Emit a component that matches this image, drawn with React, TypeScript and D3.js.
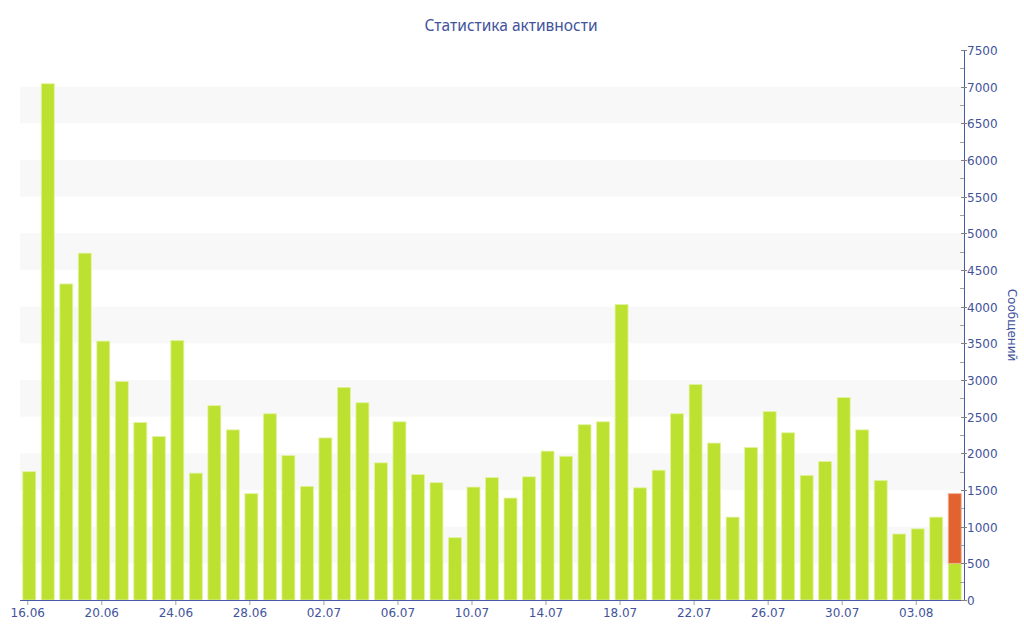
import { useEffect, useRef } from 'react';
import * as d3 from 'd3';

// one bar per day, 16.06 .. 05.08
const days = [
    '16.06', '17.06', '18.06', '19.06', '20.06', '21.06', '22.06', '23.06', '24.06', '25.06',
    '26.06', '27.06', '28.06', '29.06', '30.06', '01.07', '02.07', '03.07', '04.07', '05.07',
    '06.07', '07.07', '08.07', '09.07', '10.07', '11.07', '12.07', '13.07', '14.07', '15.07',
    '16.07', '17.07', '18.07', '19.07', '20.07', '21.07', '22.07', '23.07', '24.07', '25.07',
    '26.07', '27.07', '28.07', '29.07', '30.07', '31.07', '01.08', '02.08', '03.08', '04.08',
    '05.08',
];

const messages = [
    1750, 7040, 4310, 4730, 3530, 2980, 2420, 2230, 3540, 1730,
    2650, 2320, 1450, 2540, 1970, 1550, 2210, 2900, 2690, 1870,
    2430, 1710, 1600, 850, 1540, 1670, 1390, 1680, 2030, 1960,
    2390, 2430, 4030, 1530, 1770, 2540, 2940, 2140, 1130, 2080,
    2570, 2280, 1700, 1890, 2760, 2320, 1630, 900, 970, 1130,
    500,
];

// extra part on top of the last (current) day
const extra = [
    0, 0, 0, 0, 0, 0, 0, 0, 0, 0,
    0, 0, 0, 0, 0, 0, 0, 0, 0, 0,
    0, 0, 0, 0, 0, 0, 0, 0, 0, 0,
    0, 0, 0, 0, 0, 0, 0, 0, 0, 0,
    0, 0, 0, 0, 0, 0, 0, 0, 0, 0,
    950,
];

const xTickLabels = [
    '16.06', '20.06', '24.06', '28.06', '02.07', '06.07', '10.07',
    '14.07', '18.07', '22.07', '26.07', '30.07', '03.08',
];

const yTicks = [0, 500, 1000, 1500, 2000, 2500, 3000, 3500, 4000, 4500, 5000, 5500, 6000, 6500, 7000, 7500];

function ActivityChart() {
    const ref = useRef<SVGSVGElement | null>(null);

    useEffect(() => {
        const width = 1024;
        const height = 640;
        const left = 20;
        const right = 964;
        const top = 50;
        const bottom = 600;
        const font = '"DejaVu Sans", Verdana, sans-serif';
        const textColor = '#42539b';
        const axisColor = '#4a5aa4';

        const svg = d3.select(ref.current);
        svg.selectAll('*').remove();
        svg.attr('width', width).attr('height', height);

        const x = d3.scaleBand<string>()
            .domain(days)
            .range([left, right])
            .paddingInner(0.3)
            .paddingOuter(0.15);

        const y = d3.scaleLinear().domain([0, 7500]).range([bottom, top]);

        // === alternating bands ===
        const bands = yTicks.filter((t) => t % 1000 === 500 && t < 7500);
        svg.append('g')
            .selectAll('rect')
            .data(bands)
            .enter()
            .append('rect')
            .attr('x', left)
            .attr('width', right - left)
            .attr('y', (d) => y(d + 500))
            .attr('height', (d) => y(d) - y(d + 500))
            .attr('fill', '#f8f8f8');

        // === bars ===
        const data = days.map((d, i) => ({ day: d, base: messages[i], extra: extra[i] }));
        svg.append('g')
            .selectAll('rect')
            .data(data)
            .enter()
            .append('rect')
            .attr('x', (d) => x(d.day)!)
            .attr('width', x.bandwidth())
            .attr('y', (d) => y(d.base))
            .attr('height', (d) => y(0) - y(d.base))
            .attr('fill', '#bde130')
            .attr('stroke', '#e2f3a0')
            .attr('stroke-width', 0.8);

        svg.append('g')
            .selectAll('rect')
            .data(data.filter((d) => d.extra > 0))
            .enter()
            .append('rect')
            .attr('x', (d) => x(d.day)!)
            .attr('width', x.bandwidth())
            .attr('y', (d) => y(d.base + d.extra))
            .attr('height', (d) => y(d.base) - y(d.base + d.extra))
            .attr('fill', '#e2632f')
            .attr('stroke', '#f0b093')
            .attr('stroke-width', 0.8);

        // === x axis ===
        const xAxis = svg.append('g');
        xAxis.append('line')
            .attr('x1', left)
            .attr('x2', right)
            .attr('y1', bottom + 0.5)
            .attr('y2', bottom + 0.5)
            .attr('stroke', axisColor);
        const xt = xAxis.selectAll('.xt')
            .data(xTickLabels)
            .enter()
            .append('g')
            .attr('class', 'xt')
            .attr('transform', (d) => `translate(${x(d)! + x.bandwidth() / 2 - 1.5}, ${bottom})`);
        xt.append('line')
            .attr('y1', 1)
            .attr('y2', 5)
            .attr('stroke', '#a0a0a0');
        xt.append('text')
            .attr('y', 17)
            .attr('text-anchor', 'middle')
            .attr('font-family', font)
            .attr('font-size', '12px')
            .attr('fill', textColor)
            .text((d) => d);

        // === y axis (right) ===
        const yAxis = svg.append('g');
        yAxis.append('line')
            .attr('x1', right + 0.5)
            .attr('x2', right + 0.5)
            .attr('y1', top)
            .attr('y2', bottom)
            .attr('stroke', axisColor);
        const minor = d3.range(250, 7500, 500);
        yAxis.selectAll('.minor')
            .data(minor)
            .enter()
            .append('line')
            .attr('x1', right - 4)
            .attr('x2', right)
            .attr('y1', (d) => Math.round(y(d)) + 0.5)
            .attr('y2', (d) => Math.round(y(d)) + 0.5)
            .attr('stroke', '#a0a0a0');
        const yt = yAxis.selectAll('.yt')
            .data(yTicks)
            .enter()
            .append('g')
            .attr('transform', (d) => `translate(${right}, ${Math.round(y(d)) + 0.5})`);
        yt.append('line')
            .attr('x1', -3)
            .attr('x2', 3)
            .attr('stroke', '#808080');
        yt.append('text')
            .attr('x', 3)
            .attr('dy', '0.35em')
            .attr('font-family', font)
            .attr('font-size', '12px')
            .attr('fill', textColor)
            .text((d) => String(d));

        svg.append('text')
            .attr('transform', `translate(1008, ${(top + bottom) / 2}) rotate(90)`)
            .attr('text-anchor', 'middle')
            .attr('font-family', font)
            .attr('font-size', '12px')
            .attr('fill', textColor)
            .text('Сообщений');

        // === title ===
        svg.append('text')
            .attr('x', 511)
            .attr('y', 31)
            .attr('text-anchor', 'middle')
            .attr('font-family', '"Noto Sans", "Open Sans", sans-serif')
            .attr('font-size', '15.5px')
            .attr('fill', textColor)
            .text('Статистика активности');
    }, []);

    return <svg ref={ref} style={{ display: 'block' }} />;
}

export default function App() {
    useEffect(() => {
        document.body.style.margin = '0';
    }, []);
    return <ActivityChart />;
}
